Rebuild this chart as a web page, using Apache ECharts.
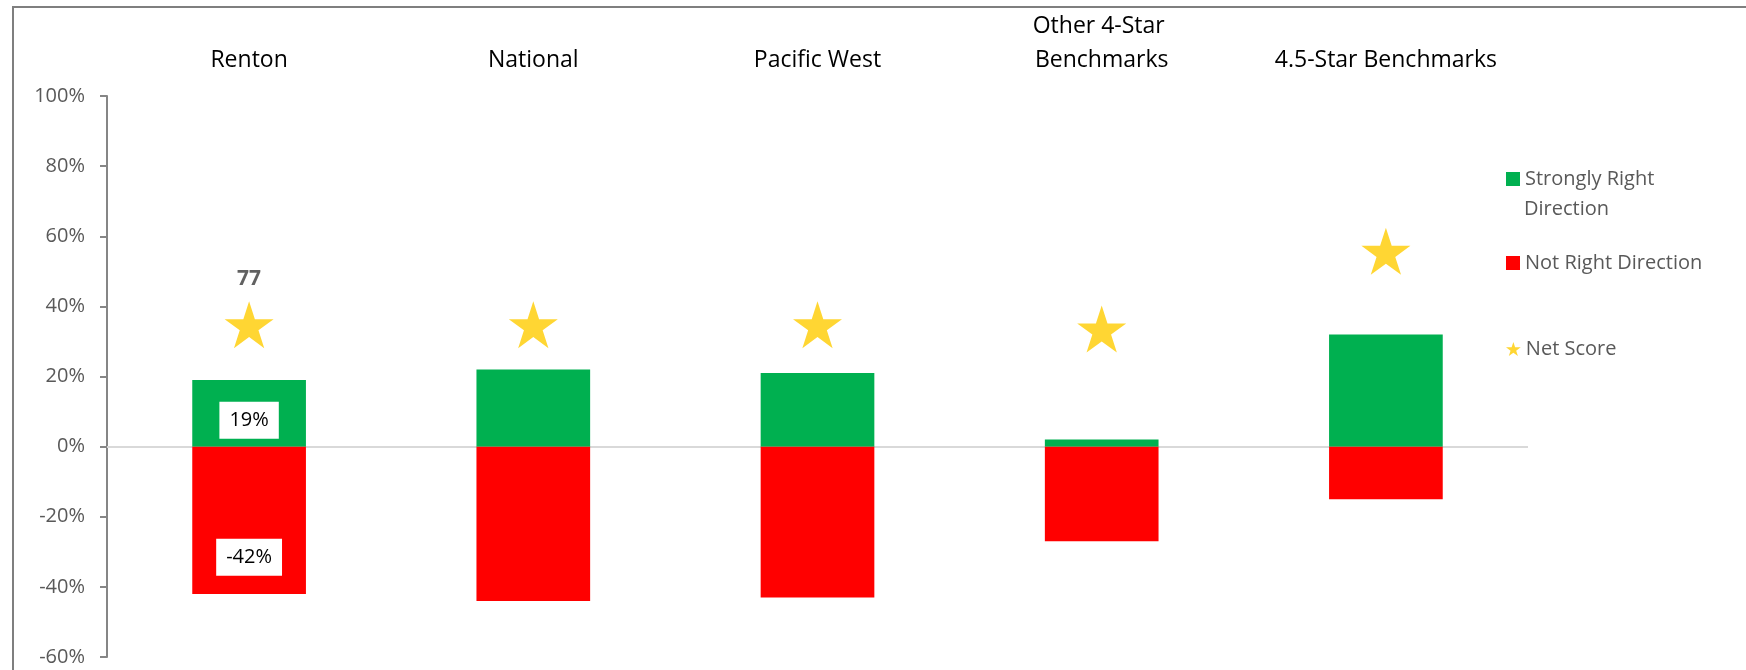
<!DOCTYPE html>
<html>
<head>
<meta charset="utf-8">
<title>Direction of the City</title>
<script src="https://cdn.jsdelivr.net/npm/echarts@6/dist/echarts.min.js"></script>
<style>
  html, body { margin: 0; padding: 0; background: #ffffff; }
  #chart { width: 1746px; height: 670px; }
</style>
</head>
<body>
<div id="chart"></div>
<script>
// Groups compared
const categories = ['Renton', 'National', 'Pacific West', 'Other 4-Star Benchmarks', '4.5-Star Benchmarks'];
// Share saying strongly right direction (%)
const stronglyRight = [19, 22, 21, 2, 32];
// Share saying not right direction (%), drawn below zero
const notRight = [-42, -44, -43, -27, -15];
// Net score, plotted on its own hidden scale
const netScore = [77, 77, 77, 76, 94];
// Groups whose values are printed on the chart
const labelledGroups = ['Renton'];
// Left axis ticks
const yTicks = { min: -60, max: 100, step: 20 };

const STAR = 'path://M0,-1 L0.2245,-0.309 L0.9511,-0.309 L0.3633,0.118 L0.5878,0.809 L0,0.382 L-0.5878,0.809 L-0.3633,0.118 L-0.9511,-0.309 L-0.2245,-0.309 Z';
const FONT = 'Open Sans';
const GREY_TEXT = '#595959';

const boxLabel = (offsetY) => ({
  show: true,
  position: 'inside',
  offset: [0, offsetY],
  formatter: (p) => p.value + '%',
  color: '#000000',
  fontFamily: FONT,
  fontSize: 20,
  lineHeight: 25,
  backgroundColor: '#ffffff',
  padding: [6, 10]
});

const greenData = stronglyRight.map((v, i) =>
  labelledGroups.includes(categories[i]) ? { value: v, label: boxLabel(7) } : v);
const redData = notRight.map((v, i) =>
  labelledGroups.includes(categories[i]) ? { value: v, label: boxLabel(37) } : v);
const starData = netScore.map((v, i) =>
  labelledGroups.includes(categories[i])
    ? { value: v, label: { show: true, position: 'top', distance: 9, formatter: '{c}',
        fontFamily: FONT, fontSize: 21, fontWeight: 'bold', color: '#3a3a3a', lineHeight: 27 } }
    : v);

const chart = echarts.init(document.getElementById('chart'), null, { renderer: 'canvas' });

const legendText = { color: GREY_TEXT, fontFamily: FONT, fontSize: 20, lineHeight: 28 };

chart.setOption({
  backgroundColor: '#ffffff',
  animation: false,
  textStyle: { fontFamily: FONT },
  graphic: [{
    type: 'rect',
    z: -10,
    shape: { x: 13, y: 7, width: 1800, height: 800 },
    style: { fill: 'none', stroke: '#7f7f7f', lineWidth: 2 }
  }, {
    // second line of the first legend entry
    type: 'text',
    left: 1524, top: 199,
    style: { text: 'Direction', fill: GREY_TEXT, font: '20px "Open Sans"' }
  }],
  legend: [
    {
      data: ['Strongly Right Direction'],
      left: 1506, top: 165, padding: 0,
      icon: 'rect', itemWidth: 14, itemHeight: 14,
      formatter: () => 'Strongly Right',
      textStyle: legendText,
      selectedMode: false
    },
    {
      data: ['Not Right Direction'],
      left: 1506, top: 249, padding: 0,
      icon: 'rect', itemWidth: 14, itemHeight: 14,
      textStyle: legendText,
      selectedMode: false
    },
    {
      data: ['Net Score'],
      left: 1506, top: 335, padding: 0,
      icon: STAR, itemWidth: 15, itemHeight: 14,
      textStyle: legendText,
      selectedMode: false
    }
  ],
  grid: { left: 107, right: 218, top: 96, bottom: 13, containLabel: false },
  xAxis: [{
    type: 'category',
    position: 'top',
    data: categories,
    axisLine: { show: false },
    axisTick: { show: false },
    axisLabel: {
      color: '#000000', fontFamily: FONT, fontSize: 23, lineHeight: 34,
      margin: 19, width: 260, overflow: 'break', interval: 0
    }
  }],
  yAxis: [{
    type: 'value',
    min: yTicks.min, max: yTicks.max, interval: yTicks.step,
    axisLine: { show: true, lineStyle: { color: '#868686', width: 2 } },
    axisTick: { show: true, length: 7, lineStyle: { color: '#868686', width: 2 } },
    axisLabel: { formatter: '{value}%', color: GREY_TEXT, fontFamily: FONT, fontSize: 20, margin: 22 },
    splitLine: { show: false }
  }, {
    type: 'value',
    min: 0, max: 130,
    show: false,
    alignTicks: false,
    splitLine: { show: false }
  }],
  series: [
    {
      name: 'Strongly Right Direction',
      type: 'bar',
      stack: 'direction',
      barWidth: '40%',
      itemStyle: { color: '#00b050' },
      data: greenData,
      markLine: {
        silent: true,
        symbol: 'none',
        label: { show: false },
        lineStyle: { color: '#d9d9d9', width: 2, type: 'solid' },
        data: [{ yAxis: 0 }],
        z: 1
      },
      z: 3
    },
    {
      name: 'Not Right Direction',
      type: 'bar',
      stack: 'direction',
      barWidth: '40%',
      itemStyle: { color: '#ff0000' },
      data: redData,
      z: 3
    },
    {
      name: 'Net Score',
      type: 'scatter',
      yAxisIndex: 1,
      symbol: STAR,
      symbolSize: [49, 47],
      itemStyle: { color: '#ffcc00' },
      data: starData,
      z: 5
    }
  ]
});
</script>
</body>
</html>
